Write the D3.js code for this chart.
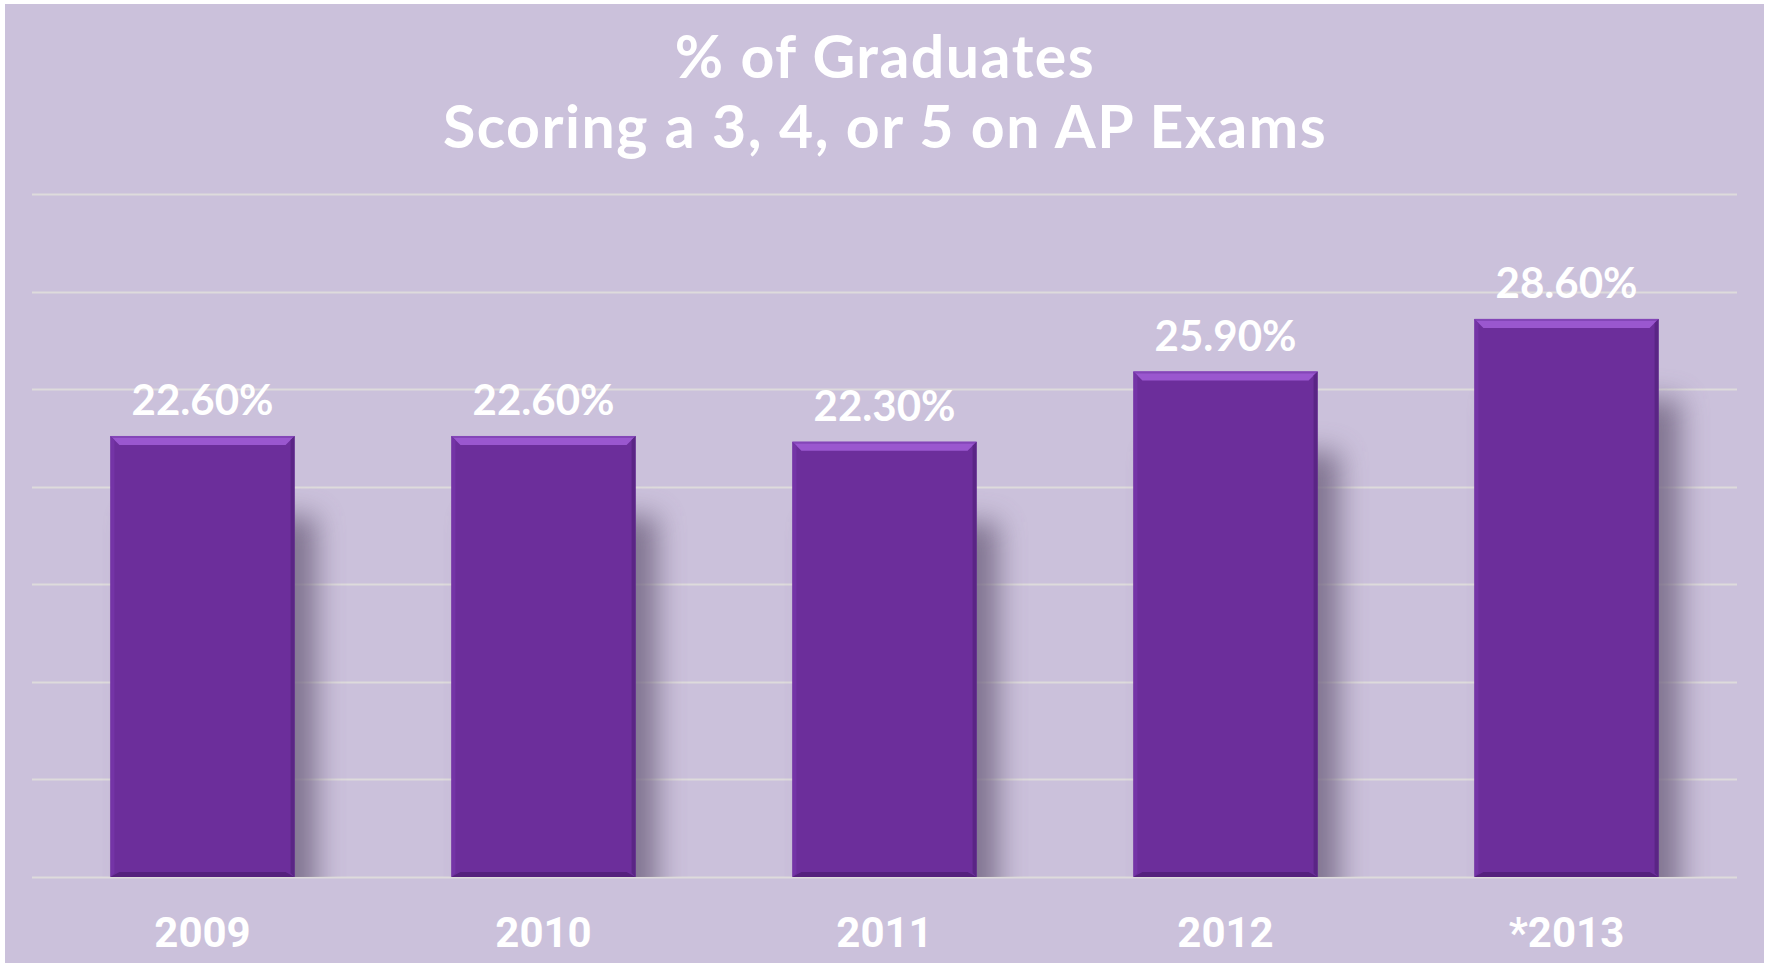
<!DOCTYPE html>
<html>
<head>
<meta charset="utf-8">
<script src="https://cdn.jsdelivr.net/npm/d3@7"></script>
<style>
  html, body { margin: 0; padding: 0; background: #ffffff; }
  svg { display: block; }
</style>
</head>
<body>
<div class="chart-wrapper"></div>
<script>
// data
let years = ["2009", "2010", "2011", "2012", "*2013"];
let percents = [22.6, 22.6, 22.3, 25.9, 28.6];
let yTicks = [0, 5, 10, 15, 20, 25, 30, 35];
let titleLines = ["% of Graduates", "Scoring a 3, 4, or 5 on AP Exams"];

let W = 1769;
let H = 966;
let plotLeft = 32;
let plotRight = 1737;
let plotTop = 194;
let plotBottom = 877;

let viz = d3.select(".chart-wrapper")
          .append("svg")
          .attr("width", W)
          .attr("height", H)
;

let defs = viz.append("defs");
defs.append("filter")
    .attr("id", "shadowblur")
    .attr("x", "-50%").attr("y", "-50%").attr("width", "200%").attr("height", "200%")
    .append("feGaussianBlur")
    .attr("stdDeviation", 14)
;
defs.append("clipPath")
    .attr("id", "plotclip")
    .append("rect")
    .attr("x", plotLeft).attr("y", 0)
    .attr("width", plotRight-plotLeft).attr("height", plotBottom)
;

// background panel
viz.append("rect")
    .attr("x", 5)
    .attr("y", 4)
    .attr("width", 1759)
    .attr("height", 959)
    .attr("fill", "#cbc1db")
;

// title
let title = viz.append("text")
    .attr("text-anchor", "middle")
    .attr("fill", "#ffffff")
    .style("font-family", "'Century Gothic', 'Lato', sans-serif")
    .style("font-weight", "bold")
    .style("font-size", "59px")
    .style("letter-spacing", "1.5px")
;
title.selectAll("tspan").data(titleLines).enter()
    .append("tspan")
    .attr("x", 885)
    .attr("y", (d,i) => 78 + i*70)
    .text(d => d)
;

// scales
let xScale = d3.scaleBand().domain(years).range([plotLeft, plotRight]).paddingInner(0.46).paddingOuter(0.23);
let yScale = d3.scaleLinear().domain([0, 35]).range([plotBottom, plotTop]);

// gridlines
viz.append("g")
    .attr("class", "gridgroup")
    .selectAll("line")
    .data(yTicks)
    .enter()
    .append("line")
    .attr("x1", plotLeft)
    .attr("x2", plotRight)
    .attr("y1", d => Math.round(yScale(d)) + 0.5)
    .attr("y2", d => Math.round(yScale(d)) + 0.5)
    .attr("stroke", "#dedbdc")
    .attr("stroke-width", 2)
;

let data = years.map((y, i) => ({year: y, value: percents[i]}));

// shadows behind bars
viz.append("g")
    .attr("clip-path", "url(#plotclip)")
    .selectAll("rect")
    .data(data)
    .enter()
    .append("rect")
    .attr("x", d => xScale(d.year) + 22)
    .attr("y", d => yScale(d.value) + 80)
    .attr("width", xScale.bandwidth())
    .attr("height", d => plotBottom - yScale(d.value))
    .attr("fill", "#756884")
    .attr("opacity", 0.85)
    .attr("filter", "url(#shadowblur)")
;

// bars
let barGroups = viz.selectAll(".bar")
    .data(data)
    .enter()
    .append("g")
    .attr("class", "bar")
    .attr("transform", d => "translate(" + xScale(d.year) + "," + yScale(d.value) + ")")
;
let bw = xScale.bandwidth();
let bev = 9;
barGroups.append("rect")
    .attr("width", bw)
    .attr("height", d => plotBottom - yScale(d.value))
    .attr("fill", "#6c2e9b")
;
// top bevel
barGroups.append("polygon")
    .attr("points", "0,0 " + bw + ",0 " + (bw-bev) + "," + bev + " " + bev + "," + bev)
    .attr("fill", "#9a57cf")
;
barGroups.append("line")
    .attr("x1", 0).attr("x2", bw).attr("y1", 1).attr("y2", 1)
    .attr("stroke", "#8446b8").attr("stroke-width", 2)
;
// right edge
barGroups.append("polygon")
    .attr("points", d => {
      let h = plotBottom - yScale(d.value);
      return bw + ",0 " + bw + "," + h + " " + (bw-4) + "," + (h-4) + " " + (bw-4) + ",4";
    })
    .attr("fill", "#5a2585")
;
// left edge
barGroups.append("polygon")
    .attr("points", d => {
      let h = plotBottom - yScale(d.value);
      return "0,0 4,4 4," + (h-4) + " 0," + h;
    })
    .attr("fill", "#7434a6")
;
// bottom edge
barGroups.append("polygon")
    .attr("points", d => {
      let h = plotBottom - yScale(d.value);
      return "0," + h + " " + bw + "," + h + " " + (bw-bev) + "," + (h-5) + " " + bev + "," + (h-5);
    })
    .attr("fill", "#55217d")
;

// value labels
viz.append("g")
    .selectAll("text")
    .data(data)
    .enter()
    .append("text")
    .attr("x", d => xScale(d.year) + bw/2)
    .attr("y", d => yScale(d.value) - 21)
    .attr("text-anchor", "middle")
    .attr("fill", "#ffffff")
    .style("font-family", "'Century Gothic', 'Lato', sans-serif")
    .style("font-weight", "bold")
    .style("font-size", "42px")
    .text(d => d.value.toFixed(2) + "%")
;

// x axis labels
let xAxis = d3.axisBottom(xScale).tickSize(0).tickPadding(0);
let xAxisGroup = viz.append("g")
    .attr("class", "xaxisgroup")
    .attr("transform", "translate(0," + (plotBottom + 70) + ")")
;
xAxisGroup.call(xAxis);
xAxisGroup.select(".domain").remove();
xAxisGroup.selectAll("text")
    .attr("dy", 0)
    .attr("fill", "#ffffff")
    .style("font-family", "Roboto, sans-serif")
    .style("font-weight", "bold")
    .style("font-size", "42px")
;
</script>
</body>
</html>
